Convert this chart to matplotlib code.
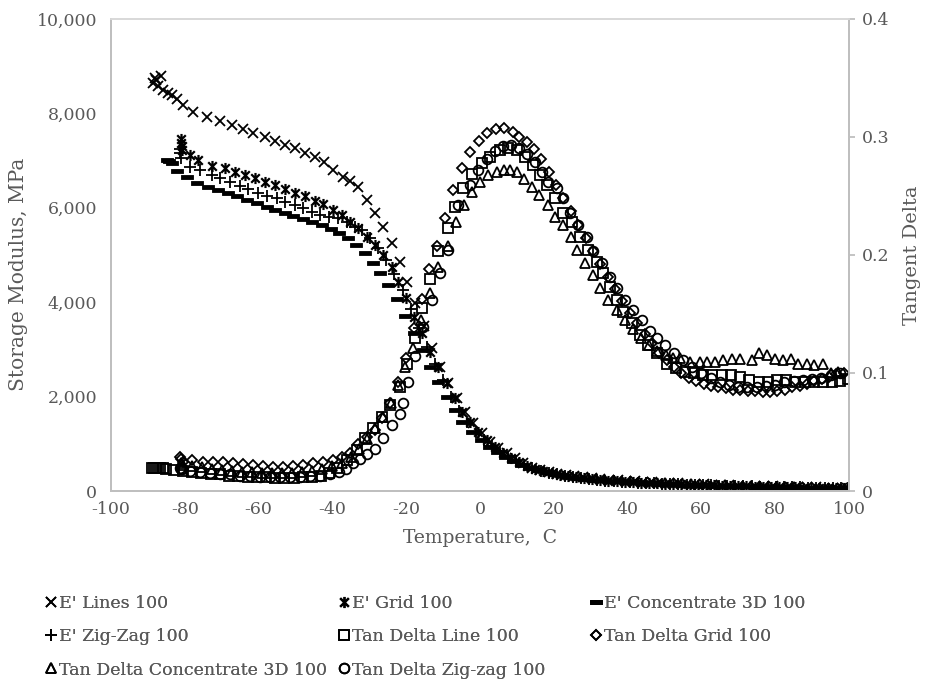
import matplotlib.pyplot as plt
from matplotlib.path import Path
from matplotlib.lines import Line2D

# E' (storage modulus, MPa) series
lines_T = [-88.6, -88.2, -87.7, -87.3, -86.5, -86.0, -84.6, -83.4, -82.2, -80.5,
           -77.8, -74.0, -70.5, -67.2, -64.2, -61.5, -58.3, -55.6, -52.8, -50.1,
           -47.4, -44.7, -42.3, -39.8, -37.1, -35.2, -33.0, -30.6, -28.5, -26.3,
           -23.8, -21.7, -19.8, -17.6, -15.3, -13.0, -10.8, -8.7, -6.2, -4.1,
           -1.9, 0.5, 2.7, 4.9, 7.3, 9.5, 11.7, 14.0, 16.3, 18.6,
           21.0, 23.3, 25.6, 28.0, 30.3, 32.6, 35.0, 37.3, 39.6, 42.0,
           44.3, 46.6, 49.0, 51.3, 53.6, 56.0, 58.3, 60.6, 63.0, 65.3,
           67.6, 70.0, 72.3, 74.6, 77.0, 79.3, 81.6, 84.0, 86.3, 88.6,
           91.0, 93.3, 95.6, 98.0, 99.5]
lines_E = [8650, 8760, 8700, 8580, 8800, 8500, 8430, 8380, 8300, 8180,
           8030, 7920, 7840, 7750, 7670, 7580, 7500, 7415, 7330, 7270,
           7160, 7080, 6960, 6800, 6650, 6560, 6450, 6170, 5890, 5590,
           5250, 4850, 4430, 3980, 3500, 3030, 2630, 2290, 1970, 1670,
           1440, 1230, 1040, 910, 800, 700, 590, 490, 440, 400,
           370, 340, 310, 290, 270, 255, 240, 225, 215, 205,
           195, 185, 175, 168, 160, 152, 145, 140, 133, 127,
           121, 116, 111, 106, 101, 97, 93, 89, 85, 81,
           78, 74, 71, 68, 65]

grid_T = [-81.0, -80.9, -80.8, -80.7, -78.6, -76.4, -72.6, -69.1, -66.4, -63.7,
          -61.0, -58.3, -55.6, -52.8, -50.1, -47.4, -44.7, -42.5, -39.8, -37.4,
          -35.2, -33.1, -30.6, -28.5, -26.3, -23.8, -22.2, -20.0, -18.0, -15.7,
          -13.6, -11.4, -8.9, -6.8, -4.9, -2.7, -0.5, 1.9, 4.1, 6.2,
          8.4, 10.6, 12.8, 15.0, 17.2, 19.4, 21.6, 23.8, 26.0, 28.2,
          30.4, 32.6, 34.8, 37.0, 39.2, 41.4, 43.6, 45.8, 48.0, 50.2,
          52.4, 54.6, 56.8, 59.0, 61.2, 63.4, 65.6, 67.8, 70.0, 72.2,
          74.4, 76.6, 78.8, 81.0, 83.2, 85.4, 87.6, 89.8, 92.0, 94.2,
          96.4, 98.6]
grid_E = [7450, 7380, 7300, 7220, 7120, 7010, 6890, 6840, 6760, 6690,
          6630, 6550, 6480, 6400, 6310, 6250, 6140, 6070, 5950, 5850,
          5700, 5570, 5380, 5210, 5000, 4750, 4430, 4090, 3680, 3350,
          2950, 2630, 2290, 1970, 1670, 1460, 1250, 1080, 930, 810,
          700, 610, 530, 470, 420, 380, 345, 315, 290, 270,
          250, 235, 220, 208, 197, 187, 178, 170, 162, 155,
          148, 141, 135, 129, 123, 118, 113, 108, 103, 99,
          95, 91, 87, 83, 80, 77, 74, 71, 68, 65,
          62, 60]

conc_T = [-84.8, -84.2, -83.5, -82.1, -79.4, -76.7, -73.7, -71.0, -68.3, -65.9,
          -63.1, -60.4, -57.7, -55.6, -52.8, -50.7, -48.0, -45.5, -42.8, -40.5,
          -38.2, -35.9, -33.6, -31.3, -29.0, -27.1, -24.9, -22.5, -20.3, -17.8,
          -15.4, -13.6, -11.4, -8.9, -6.9, -4.9, -2.2, 0.2, 2.4, 4.6,
          6.8, 9.0, 11.2, 13.4, 15.6, 17.8, 20.0, 22.2, 24.4, 26.6,
          28.8, 31.0, 33.2, 35.4, 37.6, 39.8, 42.0, 44.2, 46.4, 48.6,
          50.8, 53.0, 55.2, 57.4, 59.6, 61.8, 64.0, 66.2, 68.4, 70.6,
          72.8, 75.0, 77.2, 79.4, 81.6, 83.8, 86.0, 88.2, 90.4, 92.6,
          94.8, 97.0, 99.2]
conc_E = [7010, 6990, 6950, 6780, 6650, 6530, 6440, 6380, 6310, 6250,
          6170, 6100, 6020, 5950, 5890, 5830, 5760, 5700, 5640, 5560,
          5470, 5360, 5220, 5050, 4830, 4620, 4360, 4070, 3710, 3350,
          2990, 2630, 2310, 1990, 1720, 1460, 1250, 1080, 940, 820,
          720, 630, 555, 490, 440, 395, 360, 330, 303, 280,
          260, 243, 228, 214, 202, 191, 181, 172, 164, 156,
          149, 142, 136, 130, 124, 119, 114, 109, 104, 100,
          96, 92, 88, 85, 82, 79, 76, 73, 70, 67,
          64, 62, 60]

zig_T = [-81.3, -81.2, -81.0, -78.6, -75.9, -72.6, -70.5, -67.8, -65.0, -62.9,
         -60.2, -57.7, -55.0, -52.8, -50.1, -48.0, -45.5, -43.4, -41.0, -38.5,
         -36.0, -33.9, -32.0, -29.8, -27.6, -25.4, -23.2, -21.0, -18.8, -16.6,
         -14.4, -12.2, -10.0, -7.8, -5.6, -3.4, -1.2, 1.0, 3.2, 5.4,
         7.6, 9.8, 12.0, 14.2, 16.4, 18.6, 20.8, 23.0, 25.2, 27.4,
         29.6, 31.8, 34.0, 36.2, 38.4, 40.6, 42.8, 45.0, 47.2, 49.4,
         51.6, 53.8, 56.0, 58.2, 60.4, 62.6, 64.8, 67.0, 69.2, 71.4,
         73.6, 75.8, 78.0, 80.2, 82.4, 84.6, 86.8, 89.0, 91.2, 93.4,
         95.6, 97.8, 99.8]
zig_E = [7250, 7160, 7050, 6860, 6800, 6690, 6630, 6550, 6460, 6400,
         6310, 6250, 6210, 6120, 6060, 6000, 5910, 5850, 5800, 5780,
         5700, 5590, 5530, 5350, 5150, 4900, 4600, 4250, 3850, 3450,
         3050, 2700, 2350, 2000, 1700, 1460, 1260, 1090, 950, 830,
         720, 630, 550, 480, 430, 385, 350, 320, 295, 272,
         253, 237, 222, 209, 198, 188, 179, 171, 163, 156,
         149, 142, 136, 130, 124, 119, 114, 109, 104, 100,
         96, 92, 88, 84, 81, 78, 75, 72, 69, 66,
         63, 61, 59]

# Tan delta series
tdline_T = [-89.0, -88.4, -87.8, -87.2, -86.6, -86.0, -85.0, -83.0, -80.5, -78.0,
            -75.5, -73.0, -70.5, -68.0, -65.5, -63.0, -60.5, -58.0, -55.5, -53.0,
            -50.5, -48.0, -45.5, -43.0, -40.8, -38.8, -36.0, -33.3, -31.2, -29.0,
            -26.6, -24.4, -21.7, -19.8, -17.6, -15.7, -13.6, -11.4, -8.7, -6.8,
            -4.6, -2.2, 0.5, 2.7, 5.4, 7.6, 10.0, 12.2, 14.4, 16.3,
            18.2, 20.3, 22.5, 24.9, 27.1, 29.3, 31.7, 33.3, 35.2, 37.1,
            38.8, 41.2, 43.4, 45.5, 48.0, 50.7, 53.0, 55.5, 58.0, 60.5,
            63.0, 65.5, 68.0, 70.5, 73.0, 75.5, 78.0, 80.5, 83.0, 85.5,
            88.0, 90.5, 93.0, 95.5, 97.5, 99.7]
tdline_tan = [0.0195, 0.0195, 0.0195, 0.0195, 0.0195, 0.0195, 0.019, 0.018, 0.017, 0.016,
              0.015, 0.0145, 0.014, 0.013, 0.0125, 0.012, 0.012, 0.0115, 0.011, 0.011,
              0.011, 0.0115, 0.012, 0.013, 0.015, 0.0195, 0.026, 0.035, 0.045, 0.053,
              0.063, 0.073, 0.088, 0.108, 0.130, 0.155, 0.180, 0.203, 0.223, 0.241,
              0.257, 0.269, 0.278, 0.283, 0.289, 0.291, 0.289, 0.283, 0.276, 0.268,
              0.259, 0.248, 0.236, 0.228, 0.215, 0.204, 0.194, 0.185, 0.173, 0.162,
              0.152, 0.142, 0.132, 0.124, 0.117, 0.108, 0.104, 0.101, 0.100, 0.098,
              0.098, 0.098, 0.098, 0.097, 0.094, 0.092, 0.092, 0.094, 0.094, 0.092,
              0.092, 0.092, 0.092, 0.092, 0.093, 0.095]

tdgrid_T = [-81.3, -81.0, -80.5, -78.0, -75.0, -72.3, -69.6, -66.9, -64.2, -61.5,
            -58.8, -56.1, -53.4, -50.7, -48.0, -45.3, -42.6, -39.8, -37.5, -35.2,
            -33.1, -30.6, -28.5, -26.6, -24.4, -22.2, -20.0, -17.8, -15.6, -13.7,
            -11.7, -9.5, -7.3, -4.9, -2.7, -0.3, 1.9, 4.3, 6.5, 8.9,
            10.6, 12.7, 14.6, 16.6, 18.6, 20.6, 22.6, 24.6, 26.6, 28.6,
            30.6, 32.6, 34.6, 36.6, 38.6, 40.6, 42.6, 44.6, 46.6, 48.6,
            50.6, 52.6, 54.6, 56.6, 58.6, 60.6, 62.6, 64.6, 66.6, 68.6,
            70.6, 72.6, 74.6, 76.6, 78.6, 80.6, 82.6, 84.6, 86.6, 88.6,
            90.6, 92.6, 94.6, 96.6, 98.6]
tdgrid_tan = [0.029, 0.027, 0.025, 0.026, 0.025, 0.025, 0.025, 0.024, 0.023, 0.022,
              0.021, 0.020, 0.020, 0.021, 0.022, 0.024, 0.025, 0.026, 0.029, 0.032,
              0.040, 0.046, 0.052, 0.062, 0.075, 0.092, 0.113, 0.138, 0.163, 0.188,
              0.208, 0.231, 0.255, 0.274, 0.287, 0.297, 0.303, 0.307, 0.308, 0.304,
              0.300, 0.296, 0.290, 0.281, 0.270, 0.259, 0.248, 0.237, 0.225, 0.214,
              0.203, 0.192, 0.181, 0.171, 0.161, 0.151, 0.142, 0.133, 0.125, 0.117,
              0.111, 0.105, 0.100, 0.096, 0.093, 0.091, 0.089, 0.088, 0.087, 0.086,
              0.086, 0.085, 0.085, 0.084, 0.084, 0.085, 0.086, 0.088, 0.089, 0.091,
              0.093, 0.095, 0.097, 0.099, 0.100]

tdconc_T = [-81.0, -80.5, -78.0, -75.3, -72.6, -69.9, -67.2, -64.5, -61.8, -59.1,
            -56.4, -53.7, -51.0, -48.3, -45.6, -42.9, -40.2, -37.5, -35.0, -32.8,
            -30.6, -28.4, -26.3, -24.2, -22.2, -20.3, -18.2, -16.0, -13.6, -11.4,
            -8.7, -6.5, -4.4, -2.2, 0.0, 2.2, 4.6, 6.5, 8.1, 10.0,
            11.9, 14.1, 16.0, 18.4, 20.3, 22.5, 24.7, 26.3, 28.5, 30.6,
            32.5, 34.7, 37.1, 39.3, 41.5, 43.7, 45.9, 48.1, 50.3, 52.2,
            54.2, 56.9, 59.6, 61.6, 63.7, 65.9, 68.3, 70.5, 73.7, 75.6,
            77.8, 79.9, 82.1, 84.3, 86.2, 88.6, 90.5, 92.9, 95.0, 97.0]
tdconc_tan = [0.024, 0.022, 0.021, 0.020, 0.019, 0.018, 0.017, 0.016, 0.016, 0.015,
              0.015, 0.015, 0.015, 0.016, 0.017, 0.019, 0.021, 0.024, 0.029, 0.036,
              0.044, 0.053, 0.063, 0.075, 0.090, 0.105, 0.121, 0.145, 0.168, 0.190,
              0.208, 0.228, 0.242, 0.253, 0.262, 0.268, 0.270, 0.272, 0.272, 0.270,
              0.264, 0.258, 0.251, 0.242, 0.232, 0.225, 0.215, 0.204, 0.193, 0.183,
              0.172, 0.162, 0.153, 0.145, 0.137, 0.130, 0.124, 0.119, 0.115, 0.113,
              0.113, 0.109, 0.109, 0.109, 0.109, 0.111, 0.112, 0.112, 0.111, 0.117,
              0.115, 0.112, 0.111, 0.112, 0.108, 0.108, 0.107, 0.108, 0.100, 0.101]

tdzig_T = [-81.3, -81.1, -80.8, -78.5, -75.8, -73.1, -70.4, -67.7, -65.0, -62.3,
           -59.6, -56.9, -54.2, -51.5, -48.8, -46.1, -43.4, -40.7, -38.3, -36.2,
           -34.4, -32.4, -30.5, -28.5, -26.3, -23.8, -21.7, -20.9, -19.5, -17.6,
           -15.4, -13.0, -10.8, -8.7, -6.0, -2.7, -0.5, 1.9, 4.1, 6.2,
           8.4, 10.6, 12.7, 14.9, 16.8, 18.4, 20.9, 22.5, 24.4, 26.6,
           29.0, 30.6, 33.1, 35.2, 37.1, 39.3, 41.5, 43.9, 46.1, 48.0,
           50.1, 52.5, 55.0, 57.5, 60.0, 62.5, 65.0, 67.5, 70.0, 72.5,
           75.0, 77.5, 80.0, 82.5, 85.0, 87.5, 90.0, 92.5, 95.0, 97.5]
tdzig_tan = [0.0195, 0.019, 0.0185, 0.017, 0.016, 0.015, 0.014, 0.014, 0.013, 0.013,
             0.012, 0.012, 0.012, 0.012, 0.012, 0.013, 0.013, 0.014, 0.016, 0.019,
             0.024, 0.027, 0.031, 0.036, 0.045, 0.056, 0.065, 0.075, 0.092, 0.114,
             0.139, 0.162, 0.185, 0.204, 0.242, 0.259, 0.272, 0.281, 0.288, 0.292,
             0.293, 0.291, 0.286, 0.279, 0.270, 0.262, 0.257, 0.248, 0.236, 0.225,
             0.215, 0.203, 0.193, 0.181, 0.172, 0.162, 0.153, 0.145, 0.136, 0.130,
             0.124, 0.117, 0.111, 0.105, 0.100, 0.096, 0.092, 0.090, 0.088, 0.088,
             0.088, 0.089, 0.090, 0.092, 0.093, 0.094, 0.095, 0.096, 0.098, 0.100]

left_ticks = [0, 2000, 4000, 6000, 8000, 10000]
right_ticks = [0, 0.1, 0.2, 0.3, 0.4]
x_ticks = [-100, -80, -60, -40, -20, 0, 20, 40, 60, 80, 100]

gray = '#595959'
spine = '#BFBFBF'
plt.rcParams['font.family'] = ['DejaVu Serif']
plt.rcParams['axes.unicode_minus'] = False

# asterisk marker (x with a vertical bar) and thick dash marker
star = Path([(-1, -1), (1, 1), (-1, 1), (1, -1), (0, -1.3), (0, 1.3)],
            [Path.MOVETO, Path.LINETO] * 3)
dash = Path([(-1, -0.25), (1, -0.25), (1, 0.25), (-1, 0.25), (-1, -0.25)],
            [Path.MOVETO, Path.LINETO, Path.LINETO, Path.LINETO, Path.CLOSEPOLY])

styles = {
    "E' Lines 100": dict(marker='x', ms=7, mew=1.3, mfc='none'),
    "E' Grid 100": dict(marker=star, ms=8, mew=1.6, mfc='none'),
    "E' Concentrate 3D 100": dict(marker=dash, ms=9, mew=0.6, mfc='black'),
    "E' Zig-Zag 100": dict(marker='+', ms=8, mew=1.3, mfc='none'),
    "Tan Delta Line 100": dict(marker='s', ms=6.5, mew=1.3, mfc='none'),
    "Tan Delta Grid 100": dict(marker='D', ms=5.5, mew=1.3, mfc='none'),
    "Tan Delta Concentrate 3D 100": dict(marker='^', ms=7.5, mew=1.3, mfc='none'),
    "Tan Delta Zig-zag 100": dict(marker='o', ms=7, mew=1.3, mfc='none'),
}

fig = plt.figure(figsize=(9.26, 6.85), dpi=100)
ax = fig.add_axes([0.1199, 0.2832, 0.7969, 0.6891])
ax2 = ax.twinx()

for name, T, v in [("E' Lines 100", lines_T, lines_E),
                   ("E' Grid 100", grid_T, grid_E),
                   ("E' Concentrate 3D 100", conc_T, conc_E),
                   ("E' Zig-Zag 100", zig_T, zig_E)]:
    ax.plot(T, v, ls='none', color='black', mec='black', **styles[name])

for name, T, v in [("Tan Delta Line 100", tdline_T, tdline_tan),
                   ("Tan Delta Grid 100", tdgrid_T, tdgrid_tan),
                   ("Tan Delta Concentrate 3D 100", tdconc_T, tdconc_tan),
                   ("Tan Delta Zig-zag 100", tdzig_T, tdzig_tan)]:
    ax2.plot(T, v, ls='none', color='black', mec='black', **styles[name])

ax.set_xlim(-100, 100)
ax.set_ylim(0, 10000)
ax2.set_ylim(0, 0.4)
ax.set_xticks(x_ticks)
ax.set_yticks(left_ticks)
ax.set_yticklabels([f'{t:,}' for t in left_ticks])
ax2.set_yticks(right_ticks)
ax2.set_yticklabels(['0', '0.1', '0.2', '0.3', '0.4'])

for a in (ax, ax2):
    for s in a.spines.values():
        s.set_color(spine)
        s.set_linewidth(1.3)
    a.spines['top'].set_color('#D9D9D9')
ax.tick_params(axis='both', length=0, labelsize=12.5, colors=gray)
ax.tick_params(axis='y', pad=10)
ax.tick_params(axis='x', pad=7)
ax2.tick_params(axis='y', length=4, width=1.3, color=spine, labelsize=12.5,
                labelcolor=gray, pad=5)

ax.set_xlabel('Temperature,  C', fontsize=13.5, color=gray, labelpad=8)
ax.set_ylabel('Storage Modulus, MPa', fontsize=14.5, color=gray)
ax.yaxis.set_label_coords(-0.112, 0.46)
ax2.set_ylabel('Tangent Delta', fontsize=14, color=gray, labelpad=10)

# legend laid out in three columns under the plot
columns = [["E' Lines 100", "E' Zig-Zag 100", "Tan Delta Concentrate 3D 100"],
           ["E' Grid 100", "Tan Delta Line 100", "Tan Delta Zig-zag 100"],
           ["E' Concentrate 3D 100", "Tan Delta Grid 100"]]
col_x = [0.048, 0.364, 0.636]
for names, x in zip(columns, col_x):
    handles = [Line2D([], [], ls='none', color='black', mec='black', **styles[n])
               for n in names]
    leg = fig.legend(handles, names, loc='upper left', bbox_to_anchor=(x, 0.132),
                     frameon=False, fontsize=12.5, labelcolor=gray,
                     handlelength=0.8, handletextpad=0.05, labelspacing=0.95,
                     borderaxespad=0, borderpad=0)
    fig.add_artist(leg)

fig.savefig('out.png', dpi=100)
